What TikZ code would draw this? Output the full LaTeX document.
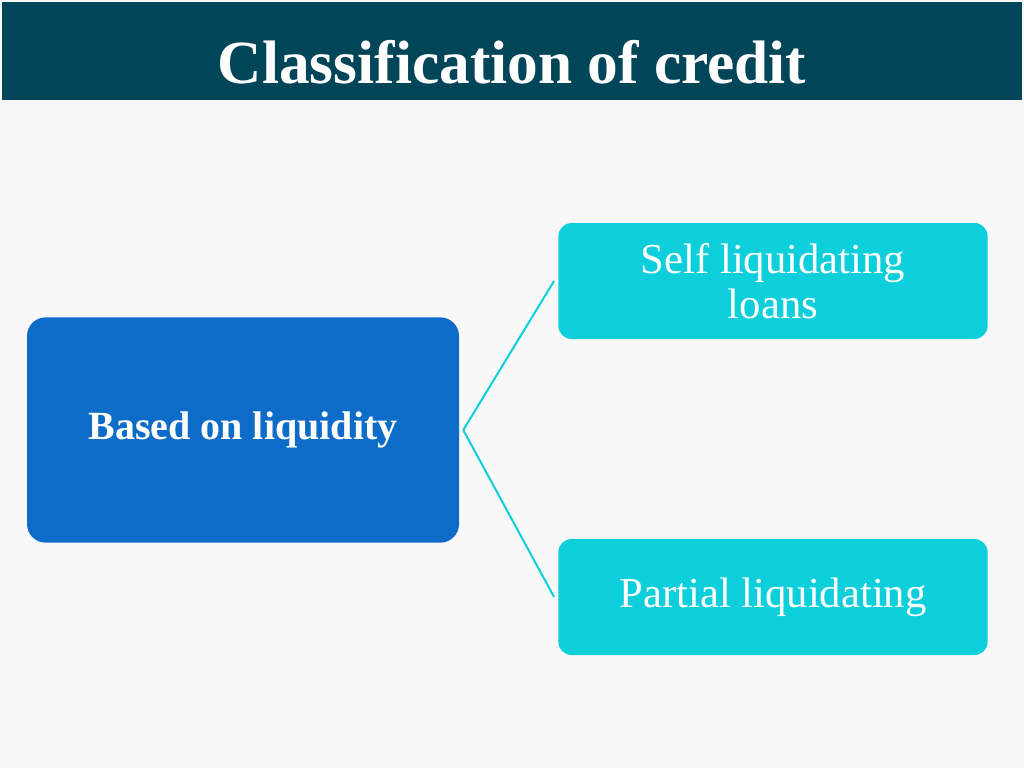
\documentclass[tikz,border=0pt]{standalone}
\usepackage{fontspec}
\setmainfont{Liberation Serif}
\usetikzlibrary{positioning}
\definecolor{titlebar}{RGB}{0,69,88}
\definecolor{mainblue}{RGB}{12,108,200}
\definecolor{leafcyan}{RGB}{13,207,220}
\definecolor{paper}{RGB}{248,248,248}
\tikzset{
  mainbox/.style={fill=mainblue,rounded corners=14pt,minimum width=324pt,minimum height=169pt,text=white,font=\fontsize{30}{36}\selectfont\bfseries},
  leafbox/.style={fill=leafcyan,rounded corners=10pt,minimum width=322pt,minimum height=87pt,text=white,align=center,font=\fontsize{32}{38}\selectfont},
  link/.style={draw=leafcyan,line width=1.5pt}
}
\begin{document}
\begin{tikzpicture}[x=0.75pt,y=0.75pt,yscale=-1,xscale=1]
\useasboundingbox (0,0) rectangle (1024,768);
\fill[paper] (0,0) rectangle (1024,768);
% title bar
\fill[titlebar] (2,2) rectangle (1022,100);
\node (title) at (512,62) [text=white,font=\fontsize{46}{52}\selectfont\bfseries] {Classification of credit};
% boxes
\node[mainbox] (liq) at (243,430) {Based on liquidity};
\node[leafbox] (self) at (773,281) {Self liquidating\\[-4pt]loans};
\node[leafbox] (part) at (773,597) {Partial liquidating};
% connectors
\draw[link] ([xshift=3pt]liq.east) -- ([xshift=-3pt]self.west);
\draw[link] ([xshift=3pt]liq.east) -- ([xshift=-3pt]part.west);
\end{tikzpicture}
\end{document}
